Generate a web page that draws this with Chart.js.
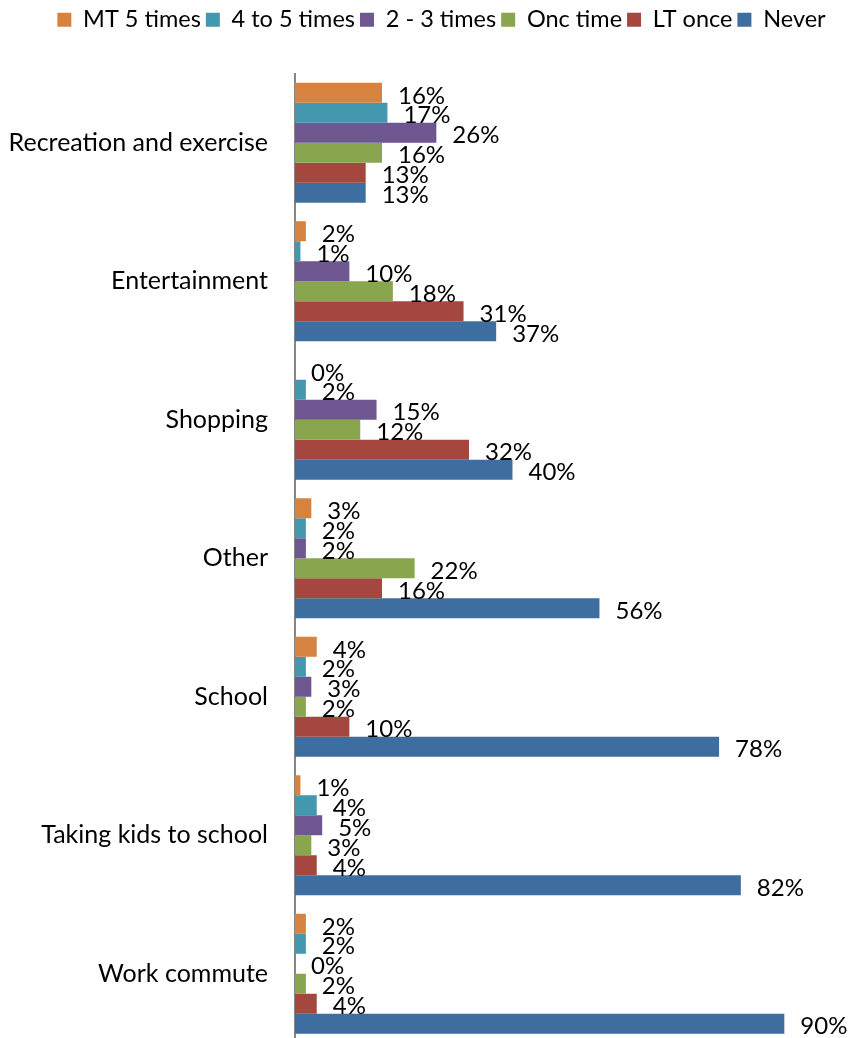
<!DOCTYPE html>
<html>
<head>
<meta charset="utf-8">
<script src="https://cdn.jsdelivr.net/npm/chart.js@4"></script>
<style>
  html, body { margin: 0; padding: 0; background: #fff; overflow: hidden; }
  #wrap { width: 855px; height: 1038px; overflow: hidden; }
</style>
</head>
<body>
<div id="wrap">
  <canvas id="myChart" width="855" height="1085"></canvas>
</div>
<script>
const categories = [
  "Recreation and exercise",
  "Entertainment",
  "Shopping",
  "Other",
  "School",
  "Taking kids to school",
  "Work commute",
];
const seriesNames = ["MT 5 times", "4 to 5 times", "2 - 3 times", "Onc time", "LT once", "Never"];
const mt5Times = [16, 2, 0, 3, 4, 1, 2];
const fourToFive = [17, 1, 2, 2, 2, 4, 2];
const twoToThree = [26, 10, 15, 2, 3, 5, 0];
const onceTime = [16, 18, 12, 22, 2, 3, 2];
const ltOnce = [13, 31, 32, 16, 10, 4, 4];
const never = [13, 37, 40, 56, 78, 82, 90];
const colors = ["#D8823F", "#4397AE", "#6E5690", "#89A54E", "#A5463F", "#3E6DA0"];

const fontFamily = "Lato, sans-serif";

// percent labels to the right of each bar
const barLabels = {
  id: "barLabels",
  afterDatasetsDraw(chart) {
    const ctx = chart.ctx;
    ctx.save();
    ctx.font = "24px " + fontFamily;
    ctx.fillStyle = "#000";
    ctx.textAlign = "left";
    ctx.textBaseline = "middle";
    chart.data.datasets.forEach((ds, i) => {
      chart.getDatasetMeta(i).data.forEach((bar, j) => {
        ctx.fillText(ds.data[j] + "%", bar.x + 16, bar.y + 3);
      });
    });
    ctx.restore();
  },
};

// more room under the legend, and nudge it a little to the right
const legendTweak = {
  id: "legendTweak",
  beforeUpdate(chart) {
    const lg = chart.legend;
    if (lg && !lg._tweaked) {
      const fit = lg.fit.bind(lg);
      const draw = lg.draw.bind(lg);
      lg.fit = function () {
        fit();
        this.height += 32;
      };
      lg.draw = function (area) {
        chart.ctx.save();
        chart.ctx.translate(14, 0);
        draw(area);
        chart.ctx.restore();
      };
      lg._tweaked = true;
    }
  },
};

const allSeries = [mt5Times, fourToFive, twoToThree, onceTime, ltOnce, never];

const config = {
  type: "bar",
  data: {
    labels: categories,
    datasets: allSeries.map((vals, i) => ({
      label: seriesNames[i],
      data: vals,
      backgroundColor: colors[i],
      borderWidth: 0,
      categoryPercentage: 0.866,
      barPercentage: 1.0,
    })),
  },
  options: {
    indexAxis: "y",
    responsive: false,
    animation: false,
    layout: { padding: { top: 3, right: 0, bottom: 5, left: 0 } },
    plugins: {
      legend: {
        position: "top",
        labels: {
          boxWidth: 14,
          boxHeight: 14,
          padding: 5,
          color: "#000",
          font: { family: fontFamily, size: 23.5 },
        },
      },
      tooltip: { enabled: false },
    },
    scales: {
      x: {
        display: false,
        min: 0,
        max: 103,
      },
      y: {
        afterFit: (s) => { s.width = 295; },
        grid: { display: false, drawTicks: false },
        border: { display: true, color: "#868686", width: 2 },
        ticks: {
          padding: 27,
          color: "#000",
          font: { family: fontFamily, size: 25 },
        },
      },
    },
  },
  plugins: [barLabels, legendTweak],
};

const myChart = new Chart(document.getElementById("myChart"), config);
</script>
</body>
</html>
